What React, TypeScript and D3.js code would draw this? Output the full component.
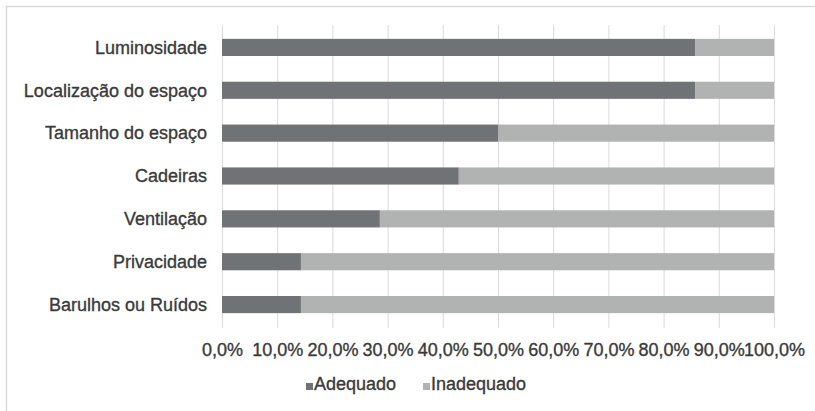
import { useEffect, useRef } from "react";
import { select, scaleLinear, scaleBand, axisBottom, range } from "d3";

const categories = [
  "Luminosidade",
  "Localização do espaço",
  "Tamanho do espaço",
  "Cadeiras",
  "Ventilação",
  "Privacidade",
  "Barulhos ou Ruídos",
];
const adequado = [85.7, 85.7, 50.0, 42.9, 28.6, 14.3, 14.3];
const inadequado = [14.3, 14.3, 50.0, 57.1, 71.4, 85.7, 85.7];
const tickValues = range(0, 101, 10);
const seriesNames = ["Adequado", "Inadequado"];
const colors = ["#707376", "#b1b3b3"];

const W = 815;
const H = 411;
const FONT = "'Liberation Sans', Arial, sans-serif";
const TEXT = "#3a3a3a";

export default function App() {
  const svgRef = useRef<SVGSVGElement | null>(null);

  useEffect(() => {
    if (!svgRef.current) return;
    const svg = select(svgRef.current);
    svg.selectAll("*").remove();

    const x = scaleLinear().domain([0, 100]).range([222, 774]);
    const y = scaleBand<string>().domain(categories).range([26, 326]).paddingInner(0.6).paddingOuter(0.3);

    // outer frame (right and bottom edges fall outside the picture)
    svg
      .append("rect")
      .attr("x", 6.5)
      .attr("y", 6.5)
      .attr("width", W + 20)
      .attr("height", H + 20)
      .attr("fill", "#fff")
      .attr("stroke", "#d9d9d9")
      .attr("stroke-width", 1.5);

    // vertical grid
    svg
      .append("g")
      .selectAll("line")
      .data(tickValues)
      .enter()
      .append("line")
      .attr("x1", (d) => x(d) + 0.5)
      .attr("x2", (d) => x(d) + 0.5)
      .attr("y1", 25)
      .attr("y2", 328)
      .attr("stroke", "#dadada")
      .attr("stroke-width", 1);

    // bars
    const rows = categories.map((c, i) => ({ c, a: adequado[i], b: inadequado[i] }));
    const g = svg.append("g");
    g.selectAll("rect.a")
      .data(rows)
      .enter()
      .append("rect")
      .attr("class", "a")
      .attr("x", x(0))
      .attr("y", (d) => y(d.c)!)
      .attr("width", (d) => x(d.a) - x(0))
      .attr("height", y.bandwidth())
      .attr("fill", colors[0]);
    g.selectAll("rect.b")
      .data(rows)
      .enter()
      .append("rect")
      .attr("class", "b")
      .attr("x", (d) => x(d.a))
      .attr("y", (d) => y(d.c)!)
      .attr("width", (d) => x(d.a + d.b) - x(d.a))
      .attr("height", y.bandwidth())
      .attr("fill", colors[1]);

    // category labels
    svg
      .append("g")
      .selectAll("text")
      .data(categories)
      .enter()
      .append("text")
      .attr("x", 207)
      .attr("y", (d) => y(d)! + y.bandwidth() / 2 + 6.3)
      .attr("text-anchor", "end")
      .attr("font-family", FONT)
      .attr("font-size", 18)
      .attr("fill", TEXT)
      .attr("stroke", TEXT)
      .attr("stroke-width", 0.35)
      .text((d) => d);

    // x axis
    const xAxis = axisBottom(x)
      .tickValues(tickValues)
      .tickSize(0)
      .tickPadding(0)
      .tickFormat((d) => `${(+d).toFixed(1).replace(".", ",")}%`);
    const gx = svg.append("g").attr("transform", "translate(0,343)").call(xAxis);
    gx.select(".domain").remove();
    gx.selectAll("text")
      .attr("dy", "0.71em")
      .attr("font-family", FONT)
      .attr("font-size", 18)
      .attr("fill", TEXT)
      .attr("stroke", TEXT)
      .attr("stroke-width", 0.35);

    // legend
    const legendX = [306, 423];
    const lg = svg.append("g");
    seriesNames.forEach((name, i) => {
      lg.append("rect")
        .attr("x", legendX[i])
        .attr("y", 383)
        .attr("width", 7)
        .attr("height", 7)
        .attr("fill", colors[i]);
      lg.append("text")
        .attr("x", legendX[i] + 8)
        .attr("y", 390)
        .attr("font-family", FONT)
        .attr("font-size", 18)
        .attr("fill", TEXT)
        .attr("stroke", TEXT)
        .attr("stroke-width", 0.35)
        .text(name);
    });
  }, []);

  return (
    <svg
      ref={svgRef}
      width={W}
      height={H}
      style={{ position: "absolute", left: 0, top: 0, display: "block" }}
    />
  );
}
